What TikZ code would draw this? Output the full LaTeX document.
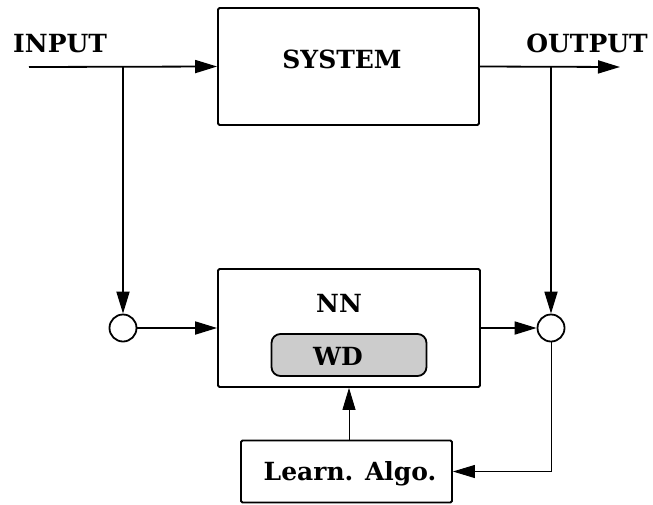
\documentclass[tikz,border=0pt]{standalone}
\usepackage{fontspec}
\setmainfont{DejaVu Serif}
\usepackage{tikz}
\usetikzlibrary{arrows.meta}

\begin{document}
\begin{tikzpicture}[x=1pt,y=-1pt,
        font=\fontsize{25}{30}\selectfont\bfseries,
        blk/.style={draw,line width=1.8pt,rounded corners=1.5pt,inner sep=0pt},
        txt/.style={inner sep=0pt,anchor=base},
        sum/.style={draw,circle,line width=1.8pt,minimum size=27pt,inner sep=0pt},
        con/.style={line width=1.8pt},
        fb/.style={line width=0.9pt},
        tip/.style={-{Triangle[length=22pt,width=13pt]}}]
    \useasboundingbox (0,0) rectangle (653,504);

    \node[blk,minimum width=261pt,minimum height=117pt] (sys) at (348.5,66.5) {};
    \node[txt] (systxt) at (342,68) {SYSTEM};
    \node[blk,minimum width=262pt,minimum height=118pt] (nn) at (349,328) {};
    \node[txt] (nntxt) at (339,312) {NN};
    \node[blk,fill=gray!40,rounded corners=9pt,minimum width=155pt,minimum height=42pt] (wd) at (349,355) {};
    \node[txt] (wdtxt) at (338,365) {WD};
    \node[blk,minimum width=211pt,minimum height=62pt] (learn) at (346.5,471.5) {};
    \node[txt] (learntxt) at (350,480) {Learn. Algo.};
    \node[sum] (sl) at (123,328) {};
    \node[sum] (sr) at (551,328) {};

    \node[txt,anchor=base west] (in) at (13,52) {INPUT};
    \node[txt,anchor=base east] (out) at (648,52) {OUTPUT};
    \coordinate (ins) at (29,67);
    \coordinate (oute) at (620,67);
    \coordinate (inb) at (sl |- ins);
    \coordinate (outb) at (sr |- ins);
    \coordinate (fbc) at (sr |- learn);

    \draw[con,tip] (ins) -- (sys.west);
    \draw[con,tip] (sys.east) -- (oute);
    \draw[con,tip] (inb) -- (sl.north);
    \draw[con,tip] (outb) -- (sr.north);
    \draw[con,tip] (sl.east) -- (nn.west);
    \draw[con,tip] (nn.east) -- (sr.west);
    \draw[fb,tip] (sr.south) -- (fbc) -- (learn.east);
    \draw[fb,tip] (learn.north -| nn.south) -- (nn.south);
\end{tikzpicture}
\end{document}
